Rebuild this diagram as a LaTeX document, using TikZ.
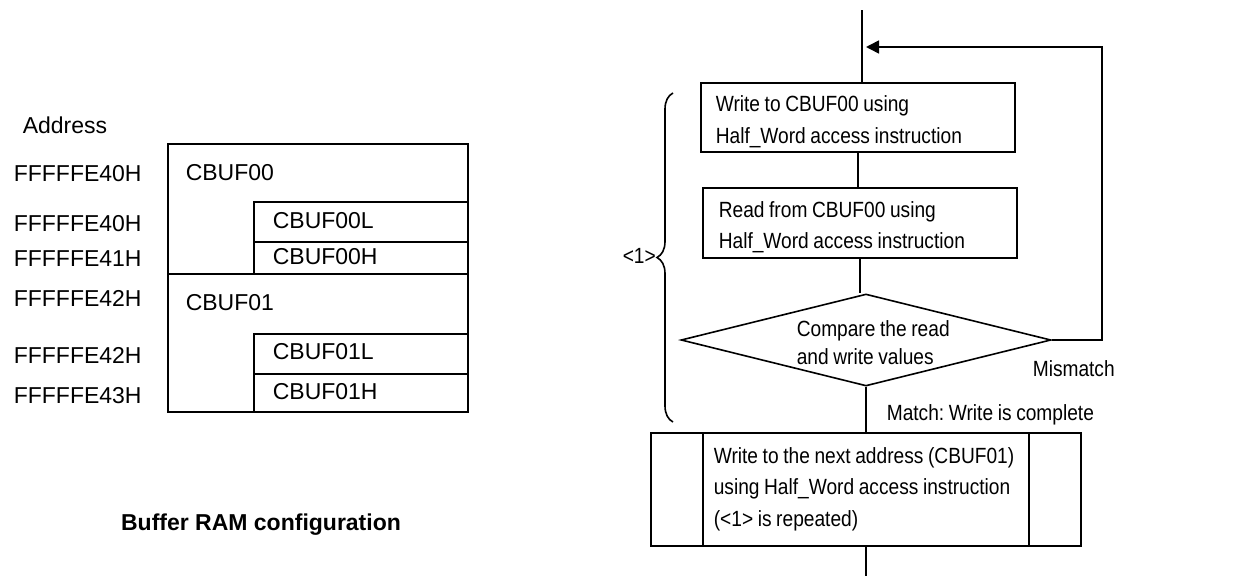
\documentclass[tikz,border=0pt]{standalone}
\usepackage{fontspec}
\setmainfont{Liberation Sans}
\newfontfamily\narrowfont[FakeStretch=0.87,WordSpace=0.87]{Liberation Sans}
\usetikzlibrary{shapes.geometric,arrows.meta,decorations.pathreplacing}
\frenchspacing
\begin{document}
\begin{tikzpicture}[x=1pt,y=-1pt,line width=1.6pt,
  lbl/.style={inner sep=0pt,anchor=base west,font=\fontsize{23}{27}\selectfont},
  ftxt/.style={inner sep=0pt,font=\narrowfont\fontsize{22}{32}\selectfont},
  mtxt/.style={ftxt,align=left,anchor=west},
  proc/.style={draw,rectangle,inner sep=0pt},
  flowline/.style={line width=1.6pt},
  loopar/.style={-{Triangle[length=13pt,width=13pt]}}]
\useasboundingbox (0,0) rectangle (1252,576);

% ---------- Buffer RAM configuration ----------
\node[lbl] (addr) at (22,133) {Address};
\node[lbl] (a1) at (13,181) {FFFFFE40H};
\node[lbl] (a2) at (13,231) {FFFFFE40H};
\node[lbl] (a3) at (13,266) {FFFFFE41H};
\node[lbl] (a4) at (13,306) {FFFFFE42H};
\node[lbl] (a5) at (13,363) {FFFFFE42H};
\node[lbl] (a6) at (13,403) {FFFFFE43H};

\draw (168,144) rectangle (468,274);
\draw (168,274) rectangle (468,412);
\draw (254,202) rectangle (468,242);
\draw (254,242) rectangle (468,274);
\draw (254,334) rectangle (468,374);
\draw (254,374) rectangle (468,412);

\node[lbl] (c00)  at (185,180) {CBUF00};
\node[lbl] (c00l) at (272,228) {CBUF00L};
\node[lbl] (c00h) at (272,264) {CBUF00H};
\node[lbl] (c01)  at (185,310) {CBUF01};
\node[lbl] (c01l) at (272,359) {CBUF01L};
\node[lbl] (c01h) at (272,399) {CBUF01H};

\node[inner sep=0pt,anchor=base,font=\bfseries\fontsize{23}{27}\selectfont] (cap) at (261,530) {Buffer RAM configuration};

% ---------- Flowchart ----------
\coordinate (top) at (862,10);
\node[proc,minimum width=314pt,minimum height=69pt] (box1) at (858,117.5) {};
\node[mtxt] (t1) at (715,122) {Write to CBUF00 using\\Half\_Word access instruction};
\node[proc,minimum width=314pt,minimum height=70pt] (box2) at (860,223) {};
\node[mtxt,font=\narrowfont\fontsize{22}{31}\selectfont] (t2) at (718,227.5) {Read from CBUF00 using\\Half\_Word access instruction};
\node[draw,diamond,minimum width=370pt,minimum height=92pt,inner sep=0pt] (dia) at (866,340) {};
\node[mtxt,font=\narrowfont\fontsize{22}{28}\selectfont] (diatxt) at (796,343) {Compare the read\\and write values};
\node[proc,minimum width=430pt,minimum height=113pt] (box3o) at (866,489.5) {};
\node[proc,minimum width=326pt,minimum height=113pt] (box3) at (866,489.5) {};
\node[mtxt,font=\narrowfont\fontsize{22}{31.5}\selectfont] (t3) at (713,489)
  {Write to the next address (CBUF01)\\using Half\_Word access instruction\\(<1> is repeated)};
\coordinate (bot) at (866,576);
\coordinate (loopR) at (1102,47);

\draw[flowline] (top) -- (top |- box1.north);
\draw[flowline] (box1.south) -- (box1.south |- box2.north);
\draw[flowline] (box2.south) -- (box2.south |- dia.north);
\draw[flowline] (dia.south) -- (box3o.north);
\draw[flowline] (box3o.south) -- (bot);
\draw[flowline,loopar] (dia.east) -| (loopR) -- ([xshift=4pt]top |- loopR);

\node[ftxt,anchor=base west] (mis) at (1032,376) {Mismatch};
\node[ftxt,anchor=base west] (mat) at (886,420) {Match: Write is complete};

\draw[decorate,decoration={brace,amplitude=16pt}] (673,422) -- (673,93);
\node[ftxt,anchor=base west] (rep) at (622,263) {<1>};
\end{tikzpicture}
\end{document}
